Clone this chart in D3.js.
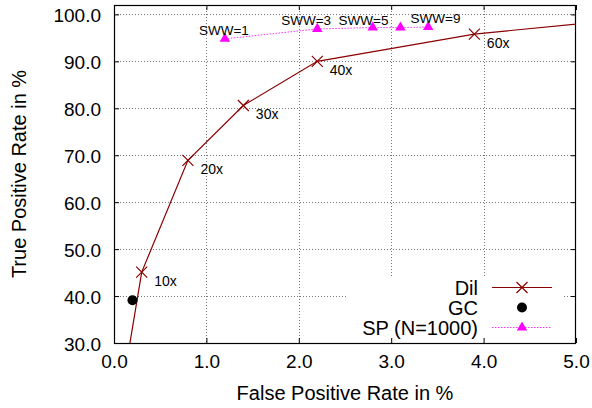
<!DOCTYPE html>
<html><head><meta charset="utf-8">
<script src="https://cdn.jsdelivr.net/npm/d3@7"></script>
<style>
html,body{margin:0;padding:0;background:#fff;}
svg{display:block;font-family:"Liberation Sans",Arial,sans-serif;}
</style></head>
<body><svg id="c" width="592" height="408"></svg>
<script>
// ---- data ----
const dilFPR = [0.13, 0.30, 0.80, 1.40, 2.20, 3.90, 6.0];
const dilTPR = [25.0, 45.1, 68.9, 80.6, 90.0, 95.8, 99.9];
const dilLabels = ["", "10x", "20x", "30x", "40x", "60x", ""];
const gcFPR = [0.20];
const gcTPR = [39.1];
const spFPR = [1.20, 2.20, 2.80, 3.10, 3.40];
const spTPR = [94.8, 96.9, 97.2, 97.2, 97.3];
const spLabelText = ["SWW=1", "SWW=3", "SWW=5", "SWW=9"];
const spLabelX = [1.19, 2.08, 2.70, 3.48];
const spLabelY = [95.7, 97.8, 97.8, 98.2];
const xTicks = [0, 1, 2, 3, 4, 5];
const yTicks = [30, 40, 50, 60, 70, 80, 90, 100];
const legendNames = ["Dil", "GC", "SP (N=1000)"];

// ---- layout ----
const L = 114, R = 576, T = 5, B = 343;
const svg = d3.select("#c");
const x = d3.scaleLinear().domain([0, 5]).range([L, R]);
const y = d3.scaleLinear().domain([30, 102]).range([B, T]);
const fmt = d3.format(".1f");
const snap = v => Math.round(v) + 0.5;

svg.append("defs").append("clipPath").attr("id", "clip")
  .append("rect").attr("x", L).attr("y", T).attr("width", R - L).attr("height", B - T);

// grid
const grid = svg.append("g").attr("stroke", "#777").attr("stroke-width", 1).attr("stroke-dasharray", "1,2");
grid.selectAll("line.v").data(xTicks.filter(d => d > 0 && d < 5)).join("line")
  .attr("x1", d => snap(x(d))).attr("x2", d => snap(x(d))).attr("y1", T).attr("y2", B);
grid.selectAll("line.h").data(yTicks.filter(d => d > 30)).join("line")
  .attr("y1", d => snap(y(d))).attr("y2", d => snap(y(d))).attr("x1", L).attr("x2", R);

// key background (covers grid)
svg.append("rect").attr("x", 347).attr("y", 276).attr("width", 216).attr("height", B - 276).attr("fill", "#fff");

// axes with ticks on all sides (inward)
const ax = svg.append("g");
const xb = d3.axisBottom(x).tickValues(xTicks).tickFormat(fmt).tickSizeInner(-5).tickSizeOuter(0).tickPadding(12);
const xt = d3.axisTop(x).tickValues(xTicks).tickFormat("").tickSizeInner(-5).tickSizeOuter(0);
const yl = d3.axisLeft(y).tickValues(yTicks).tickFormat(fmt).tickSizeInner(-5).tickSizeOuter(0).tickPadding(13);
const yr = d3.axisRight(y).tickValues(yTicks).tickFormat("").tickSizeInner(-5).tickSizeOuter(0);
function style(g){
  g.select(".domain").remove();
  g.selectAll("line").attr("stroke", "#000");
  g.selectAll("text").attr("font-size", 19).attr("fill", "#000").attr("font-family", "Liberation Sans, Arial, sans-serif");
}
ax.append("g").attr("transform", `translate(0,${B})`).call(xb).call(style);
ax.append("g").attr("transform", `translate(0,${T})`).call(xt).call(style);
ax.append("g").attr("transform", `translate(${L},0)`).call(yl).call(style)
  .selectAll("text").attr("dy", "0.4em");
ax.append("g").attr("transform", `translate(${R},0)`).call(yr).call(style);
svg.append("rect").attr("x", L + 0.5).attr("y", T + 0.5).attr("width", R - L - 1).attr("height", B - T)
  .attr("fill", "none").attr("stroke", "#000").attr("stroke-width", 1.2);

// axis titles
svg.append("text").attr("x", (L + R) / 2).attr("y", 400).attr("text-anchor", "middle")
  .attr("font-size", 20).text("False Positive Rate in %");
svg.append("text").attr("transform", `translate(26,${(T + B) / 2}) rotate(-90)`).attr("text-anchor", "middle")
  .attr("font-size", 20).text("True Positive Rate in %");

const plot = svg.append("g").attr("clip-path", "url(#clip)");
const dil = dilFPR.map((d, i) => ({x: d, y: dilTPR[i], label: dilLabels[i]}));
const sp = spFPR.map((d, i) => ({x: d, y: spTPR[i]}));
const gc = gcFPR.map((d, i) => ({x: d, y: gcTPR[i]}));
const line = d3.line().x(d => x(d.x)).y(d => y(d.y));

const DIL = "#8b0000", SP = "#ff00ff";
function cross(g, cx, cy, s){
  g.append("path").attr("d", `M${cx - s},${cy - s}L${cx + s},${cy + s}M${cx - s},${cy + s}L${cx + s},${cy - s}`)
    .attr("stroke", DIL).attr("stroke-width", 1.2).attr("fill", "none");
}
function tri(g, cx, cy){
  g.append("path").attr("d", d3.symbol(d3.symbolTriangle, 48)()).attr("transform", `translate(${cx},${cy})`).attr("fill", SP);
}

// SP
plot.append("path").datum(sp).attr("d", line).attr("fill", "none").attr("stroke", SP)
  .attr("stroke-width", 1).attr("stroke-dasharray", "1.5,1.5").attr("stroke-opacity", 0.8);
sp.forEach(d => tri(plot, x(d.x), y(d.y)));
// Dil
plot.append("path").datum(dil).attr("d", line).attr("fill", "none").attr("stroke", DIL).attr("stroke-width", 1.2);
dil.forEach(d => cross(plot, x(d.x), y(d.y), 5.5));
// GC
gc.forEach(d => plot.append("circle").attr("cx", x(d.x)).attr("cy", y(d.y)).attr("r", 5).attr("fill", "#000"));

// point labels
svg.append("g").selectAll("text").data(dil.filter(d => d.label)).join("text")
  .attr("x", d => x(d.x) + 12.5).attr("y", d => y(d.y) + 14).attr("font-size", 14).text(d => d.label);
svg.append("g").selectAll("text").data(spLabelText).join("text")
  .attr("x", (d, i) => x(spLabelX[i])).attr("y", (d, i) => y(spLabelY[i]))
  .attr("text-anchor", "middle").attr("font-size", 13.5).text(d => d);

// legend
const lg = svg.append("g");
legendNames.forEach((name, i) => {
  const cy = 287.5 + i * 20;
  lg.append("text").attr("x", 478).attr("y", cy + 7).attr("text-anchor", "end").attr("font-size", 20).text(name);
  if (i === 0) {
    lg.append("line").attr("x1", 492).attr("x2", 552).attr("y1", cy).attr("y2", cy).attr("stroke", DIL).attr("stroke-width", 1.2);
    cross(lg, 522, cy, 5.5);
  } else if (i === 1) {
    lg.append("circle").attr("cx", 522).attr("cy", cy).attr("r", 5).attr("fill", "#000");
  } else {
    lg.append("line").attr("x1", 492).attr("x2", 552).attr("y1", cy).attr("y2", cy).attr("stroke", SP)
      .attr("stroke-width", 1).attr("stroke-dasharray", "1.5,1.5").attr("stroke-opacity", 0.8);
    tri(lg, 522, cy);
  }
});
</script></body></html>
